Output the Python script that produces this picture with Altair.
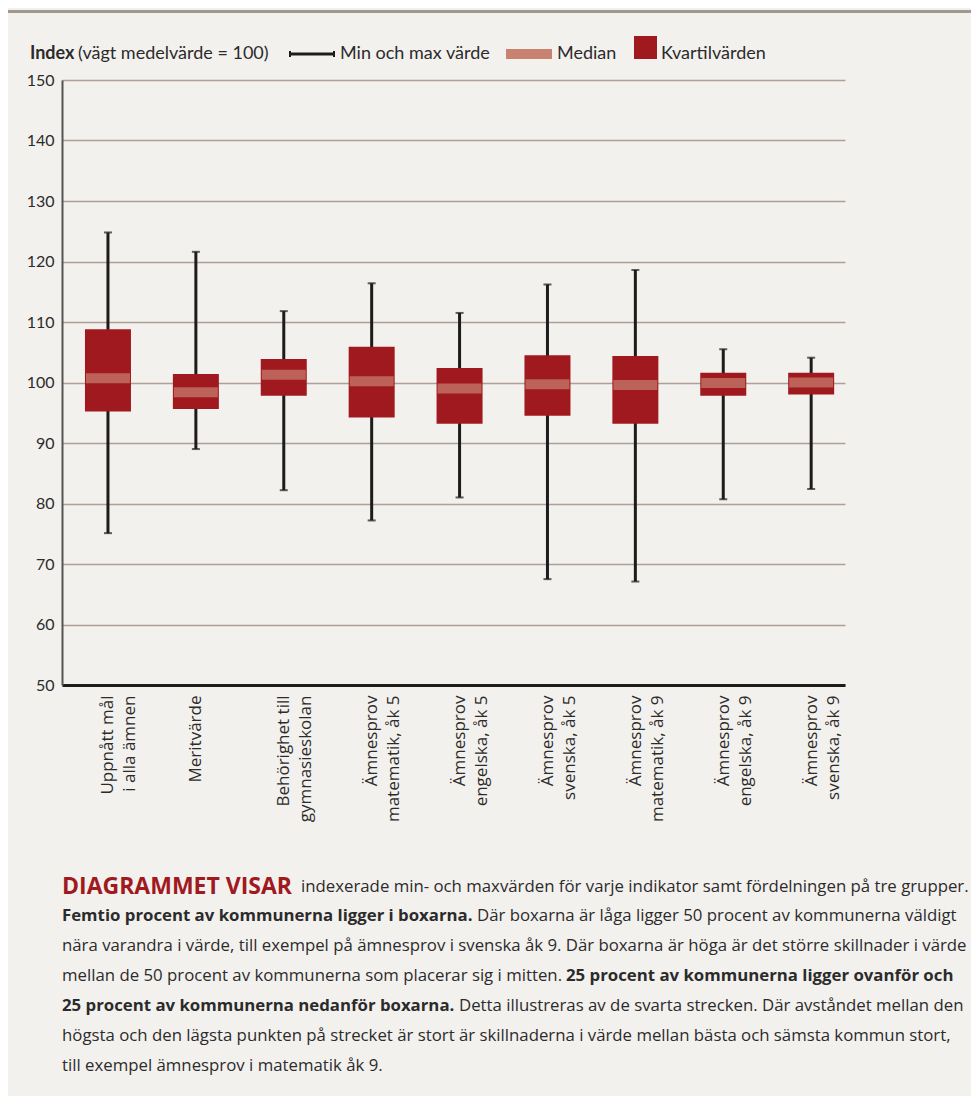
import altair as alt
import pandas as pd

# ---- data ----
categories = [
    "Uppnått mål\ni alla ämnen",
    "Meritvärde",
    "Behörighet till\ngymnasieskolan",
    "Ämnesprov\nmatematik, åk 5",
    "Ämnesprov\nengelska, åk 5",
    "Ämnesprov\nsvenska, åk 5",
    "Ämnesprov\nmatematik, åk 9",
    "Ämnesprov\nengelska, åk 9",
    "Ämnesprov\nsvenska, åk 9",
]
min_vals = [75.1, 89.0, 82.2, 77.2, 81.0, 67.5, 67.1, 80.7, 82.4]
q1_vals = [95.2, 95.6, 97.8, 94.2, 93.2, 94.5, 93.2, 97.8, 98.0]
median_vals = [100.7, 98.4, 101.3, 100.2, 99.0, 99.7, 99.6, 99.9, 100.0]
q3_vals = [108.8, 101.4, 103.9, 105.9, 102.4, 104.5, 104.4, 101.6, 101.6]
max_vals = [124.8, 121.6, 111.8, 116.4, 111.5, 116.2, 118.6, 105.5, 104.1]
y_ticks = [50, 60, 70, 80, 90, 100, 110, 120, 130, 140, 150]

legend_title_bold = "Index"
legend_title_rest = "(vägt medelvärde = 100)"
legend_labels = ["Min och max värde", "Median", "Kvartilvärden"]

# paragraph: list of (line_index, x_offset, text, style)
paragraph = [
    (0, 0, "DIAGRAMMET VISAR", "head"),
    (0, 239, "indexerade min- och maxvärden för varje indikator samt fördelningen på tre grupper.", "normal"),
    (1, 0, "Femtio procent av kommunerna ligger i boxarna.", "bold"),
    (1, 415, "Där boxarna är låga ligger 50 procent av kommunerna väldigt", "normal"),
    (2, 0, "nära varandra i värde, till exempel på ämnesprov i svenska åk 9. Där boxarna är höga är det större skillnader i värde", "normal"),
    (3, 0, "mellan de 50 procent av kommunerna som placerar sig i mitten.", "normal"),
    (3, 504, "25 procent av kommunerna ligger ovanför och", "bold"),
    (4, 0, "25 procent av kommunerna nedanför boxarna.", "bold"),
    (4, 397, "Detta illustreras av de svarta strecken. Där avståndet mellan den", "normal"),
    (5, 0, "högsta och den lägsta punkten på strecket är stort är skillnaderna i värde mellan bästa och sämsta kommun stort,", "normal"),
    (6, 0, "till exempel ämnesprov i matematik åk 9.", "normal"),
]

# ---- styling ----
BG = "#F3F1EE"
RED = "#A0191E"
PINK = "#C98170"
DARK = "#1c1c1c"
GRID = "#ADA095"
TXT = "#2b2b2b"
FONT = "Lato"
PFONT = "Open Sans"

W, H = 783, 605

df = pd.DataFrame({
    "cat": categories,
    "min": min_vals,
    "q1": q1_vals,
    "median": median_vals,
    "q3": q3_vals,
    "max": max_vals,
})

xscale = alt.Scale(type="point", domain=categories, padding=0.454, align=0.576)
yscale = alt.Scale(domain=[50, 150], nice=False, zero=False)

x_enc = alt.X(
    "cat:N",
    scale=xscale,
    sort=categories,
    axis=alt.Axis(
        title=None,
        labelAngle=270,
        labelExpr="split(datum.value, '\\n')",
        labelFont=PFONT,
        labelFontSize=17,
        labelColor=TXT,
        labelLineHeight=22,
        labelPadding=10,
        ticks=False,
        domainColor=DARK,
        domainWidth=3,
        labelLimit=300,
    ),
)
y_axis = alt.Axis(
    title=None,
    values=y_ticks,
    grid=True,
    gridColor=GRID,
    gridWidth=1.3,
    ticks=False,
    domainColor="#555555",
    domainWidth=2,
    labelFont=FONT,
    labelFontSize=16,
    labelColor=TXT,
    labelPadding=8,
)

base = alt.Chart(df)
xs = alt.X("cat:N", scale=xscale, sort=categories)

whisker = base.mark_rule(color=DARK, strokeWidth=3).encode(
    x=x_enc,
    y=alt.Y("min:Q", scale=yscale, axis=y_axis),
    y2="max:Q",
)
cap_min = base.mark_tick(color=DARK, size=8, thickness=2).encode(
    x=xs, y=alt.Y("min:Q", scale=yscale),
)
cap_max = base.mark_tick(color=DARK, size=8, thickness=2).encode(
    x=xs, y=alt.Y("max:Q", scale=yscale),
)
box = base.mark_bar(color=RED, size=46).encode(
    x=xs, y=alt.Y("q1:Q", scale=yscale), y2="q3:Q",
)
med = base.mark_tick(color=PINK, size=44, thickness=10).encode(
    x=xs, y=alt.Y("median:Q", scale=yscale),
)

one = pd.DataFrame({"a": [0]})

# ---- top rule ----
top_rule = alt.Chart(one).mark_rule(color="#A0978E", strokeWidth=3).encode(
    x=alt.value(-54), x2=alt.value(910), y=alt.value(-68.5)
)

# ---- legend ----
leg_y = -26
LFS = 18
leg_bold = alt.Chart(one).mark_text(
    text=legend_title_bold, font=FONT, fontSize=LFS, fontWeight="bold", color=TXT, align="left", baseline="middle"
).encode(x=alt.value(-32), y=alt.value(leg_y))
leg_rest = alt.Chart(one).mark_text(
    text=legend_title_rest, font=FONT, fontSize=LFS, color=TXT, align="left", baseline="middle"
).encode(x=alt.value(16), y=alt.value(leg_y))
leg_line = alt.Chart(one).mark_rule(color=DARK, strokeWidth=3).encode(
    x=alt.value(227), x2=alt.value(273), y=alt.value(leg_y)
)
leg_cap1 = alt.Chart(one).mark_rule(color=DARK, strokeWidth=2).encode(
    x=alt.value(228), y=alt.value(leg_y - 3), y2=alt.value(leg_y + 3)
)
leg_cap2 = alt.Chart(one).mark_rule(color=DARK, strokeWidth=2).encode(
    x=alt.value(272), y=alt.value(leg_y - 3), y2=alt.value(leg_y + 3)
)
leg_t1 = alt.Chart(one).mark_text(
    text=legend_labels[0], font=FONT, fontSize=LFS, color=TXT, align="left", baseline="middle"
).encode(x=alt.value(278), y=alt.value(leg_y))
leg_med = alt.Chart(one).mark_rect(color=PINK).encode(
    x=alt.value(444), x2=alt.value(490), y=alt.value(-31), y2=alt.value(-21)
)
leg_t2 = alt.Chart(one).mark_text(
    text=legend_labels[1], font=FONT, fontSize=LFS, color=TXT, align="left", baseline="middle"
).encode(x=alt.value(495), y=alt.value(leg_y))
leg_box = alt.Chart(one).mark_rect(color=RED).encode(
    x=alt.value(572), x2=alt.value(595), y=alt.value(-44), y2=alt.value(-21)
)
leg_t3 = alt.Chart(one).mark_text(
    text=legend_labels[2], font=FONT, fontSize=LFS, color=TXT, align="left", baseline="middle"
).encode(x=alt.value(599), y=alt.value(leg_y))

# ---- paragraph ----
line_y0 = 806.5  # relative to plot top
line_step = 29.9
para_layers = []
for (li, xo, txt, style) in paragraph:
    if style == "head":
        kw = dict(fontSize=23, fontWeight="bold", color=RED)
    elif style == "bold":
        kw = dict(fontSize=16.8, fontWeight="bold", color=TXT)
    else:
        kw = dict(fontSize=16.8, color=TXT)
    para_layers.append(
        alt.Chart(one).mark_text(text=txt, font=PFONT, align="left", baseline="middle", **kw).encode(
            x=alt.value(0 + xo), y=alt.value(line_y0 + li * line_step)
        )
    )

chart = alt.layer(
    whisker, box, med, cap_min, cap_max,
    top_rule, leg_bold, leg_rest, leg_line, leg_cap1, leg_cap2, leg_t1, leg_med, leg_t2, leg_box, leg_t3,
    *para_layers,
).properties(
    width=W,
    height=H,
    background=BG,
    autosize=alt.AutoSizeParams(type="none"),
    padding={"left": 54, "top": 72, "right": 126, "bottom": 411},
).configure_view(stroke=None)

chart.save("out.html", embed_options={"renderer": "svg", "actions": False})
